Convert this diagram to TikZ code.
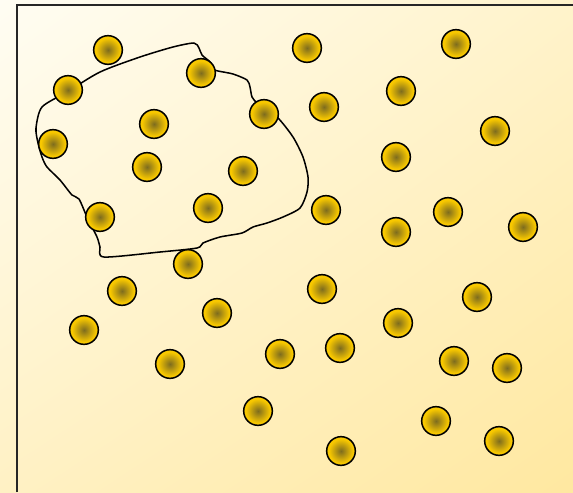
\documentclass[tikz,border=0pt]{standalone}
\usetikzlibrary{calc, shadings}
\definecolor{cFondoA}{HTML}{FFFDF3}
\definecolor{cFondoB}{HTML}{FFF3CB}
\definecolor{cFondoC}{HTML}{FFF1C4}
\definecolor{cFondoD}{HTML}{FFE8A0}
\definecolor{cNucleo}{HTML}{7E6C1E}
\definecolor{cPunto}{HTML}{F8C800}
\pgfdeclareradialshading{brilloPunto}{\pgfpoint{0bp}{0bp}}{%
  color(0bp)=(cNucleo); color(21bp)=(cPunto); color(50bp)=(cPunto)}

\begin{document}
\begin{tikzpicture}[
    x=0.03cm, y=-0.03cm,
    borde/.style={draw=black!85, line width=1.3pt},
    zona/.style={draw=black, line width=1.3pt, line join=round},
    punto/.style={circle, draw=black, line width=1.3pt, inner sep=0pt,
                  minimum size=0.86cm, shading=brilloPunto},
]

% ===================== Fondo y marco =====================
\useasboundingbox (0,0) rectangle (573,492);
\shade[upper left=cFondoA, upper right=cFondoB,
       lower left=cFondoC, lower right=cFondoD] (0,0) rectangle (573,492);
\draw[borde] (17,492) |- (573,5);

% ===================== Zona marcada a mano =====================
\draw[zona] plot[smooth cycle, tension=0.45] coordinates {
    (194,43) (199,48) (202,55) (210,62) (213,69) (218,71) (233,74)
    (247,80) (250,87) (252,97) (257,103) (265,110) (278,118) (293,137)
    (303,157) (308,177) (307,192) (300,208) (283,217) (267,223)
    (253,227) (242,233) (220,237) (203,243) (197,248) (160,252)
    (104,257) (100,247) (97,237) (87,217) (79,199) (72,195) (60,180)
    (47,167) (42,157) (38,143) (36,128) (42,107) (67,92) (100,72)
    (140,57) (173,47)};

% ===================== Puntos =====================
\foreach \x/\y [count=\i] in {
    108/50, 307/48, 456/44, 68/90, 201/73, 401/91, 154/124, 264/114,
    324/107, 495/131, 53/144, 147/167, 243/171, 396/157, 100/217,
    208/208, 326/210, 448/212, 396/232, 523/227, 188/264, 122/291,
    322/289, 477/297, 84/330, 217/313, 398/323, 170/364, 280/354,
    340/348, 454/361, 507/368, 258/411, 436/421, 341/451, 499/441}
  \node[punto] (p\i) at (\x,\y) {};

\end{tikzpicture}
\end{document}
